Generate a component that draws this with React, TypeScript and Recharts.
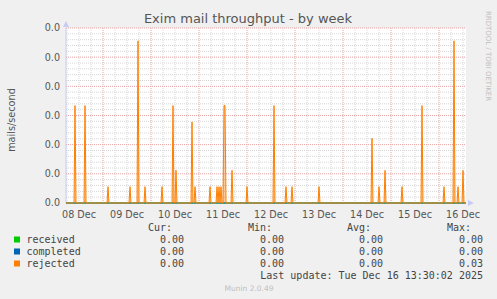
import React from 'react';
import {
  ComposedChart,
  Area,
  Line,
  XAxis,
  YAxis,
  CartesianGrid,
  ReferenceLine,
  ReferenceDot,
} from 'recharts';

// ---- data ----
const seriesNames = ['received', 'completed', 'rejected'];
const seriesColors = ['#00cc00', '#0066b3', '#ff8000'];
const curValues = ['0.00', '0.00', '0.00'];
const minValues = ['0.00', '0.00', '0.00'];
const avgValues = ['0.00', '0.00', '0.00'];
const maxValues = ['0.00', '0.00', '0.03'];

// x axis: half-hour slots from 08 Dec 05:30 to 16 Dec 13:30 (400 slots)
const slotDomain = [0, 400];
const dayLabels = ['08 Dec', '09 Dec', '10 Dec', '11 Dec', '12 Dec', '13 Dec', '14 Dec', '15 Dec', '16 Dec'];
const dayLabelSlots = [13, 61, 109, 157, 205, 253, 301, 349, 397];
const midnightSlots = [37, 85, 133, 181, 229, 277, 325, 373];
const sixHourSlots = [1, 13, 25, 49, 61, 73, 97, 109, 121, 145, 157, 169, 193, 205, 217, 241, 253, 265, 289, 301, 313, 337, 349, 361, 385, 397];

// y axis
const yTicks = [0, 0.005, 0.01, 0.015, 0.02, 0.025, 0.03];
const yMinor = [0.001, 0.002, 0.003, 0.004, 0.006, 0.007, 0.008, 0.009, 0.011, 0.012, 0.013, 0.014, 0.016, 0.017, 0.018, 0.019, 0.021, 0.022, 0.023, 0.024, 0.026, 0.027, 0.028, 0.029];

// rejected spikes (slot, width in slots, mails/second)
const rejectedSlots = [9, 19, 42, 64, 72, 79, 96, 107, 110, 126, 129, 144, 151, 153, 155, 158, 166, 181, 208, 220, 226, 253, 306, 313, 319, 336, 356, 378, 388, 392, 397];
const rejectedWidths = [1, 1, 1, 1, 1, 1, 1, 1, 1, 1, 1, 1, 1, 1, 1, 2, 1, 1, 1, 1, 1, 1, 1, 1, 1, 1, 1, 1, 1, 1, 1];
const rejectedRates = [0.0167, 0.0167, 0.0028, 0.0028, 0.0278, 0.0028, 0.0028, 0.0167, 0.0056, 0.0139, 0.0028, 0.0028, 0.0028, 0.0028, 0.0028, 0.0167, 0.0056, 0.0028, 0.0167, 0.0028, 0.0028, 0.0028, 0.0111, 0.0028, 0.0056, 0.0028, 0.0167, 0.0028, 0.0278, 0.0028, 0.0056];

function buildData() {
  const m = new Map<number, number>();
  m.set(slotDomain[0], 0);
  m.set(slotDomain[1], 0);
  rejectedSlots.forEach((s, i) => {
    const w = rejectedWidths[i];
    if (!m.has(s - 1)) m.set(s - 1, 0);
    if (!m.has(s + w)) m.set(s + w, 0);
  });
  rejectedSlots.forEach((s, i) => {
    for (let k = 0; k < rejectedWidths[i]; k++) m.set(s + k, rejectedRates[i]);
  });
  return Array.from(m.entries())
    .sort((a, b) => a[0] - b[0])
    .map(([slot, v]) => ({ slot, received: 0, completed: 0, rejected: v }));
}
const data = buildData();

const FONT = '"DejaVu Sans", sans-serif';
const MONO = '"DejaVu Sans Mono", monospace';

const UpArrow = (p: any) => (
  <polygon points={`${p.cx - 3},${p.cy - 1} ${p.cx + 3},${p.cy - 1} ${p.cx},${p.cy - 7}`} fill="#c8ccf4" />
);
const RightArrow = (p: any) => (
  <polygon points={`${p.cx + 2},${p.cy - 3} ${p.cx + 2},${p.cy + 3} ${p.cx + 8},${p.cy}`} fill="#c8ccf4" />
);

export default function App() {
  const colX = [184, 284, 383, 483];
  const headers = ['Cur:', 'Min:', 'Avg:', 'Max:'];
  const cols = [curValues, minValues, avgValues, maxValues];
  return (
    <div style={{ position: 'absolute', left: 0, top: 0, width: 497, height: 299, background: '#f0f0f0' }}>
      <ComposedChart
        width={497}
        height={299}
        data={data}
        margin={{ top: 28, right: 31, left: 0, bottom: 76 }}
      >
        <CartesianGrid
          fill="#ffffff"
          stroke="#d6d6d6"
          strokeDasharray="1 1"
          horizontalValues={yMinor}
          verticalValues={sixHourSlots}
        />
        <XAxis
          dataKey="slot"
          type="number"
          domain={slotDomain}
          ticks={dayLabelSlots}
          tickFormatter={(v: number) => dayLabels[dayLabelSlots.indexOf(v)]}
          axisLine={false}
          tickLine={false}
          height={20}
          tickMargin={2}
          tick={{ fontSize: 9.6, fill: '#555', fontFamily: FONT }}
          interval={0}
        />
        <YAxis
          type="number"
          domain={[0, 0.03]}
          ticks={yTicks}
          tickFormatter={(v: number) => v.toFixed(1)}
          axisLine={false}
          tickLine={false}
          width={66}
          tickMargin={0}
          tick={{ fontSize: 9.6, fill: '#555', fontFamily: FONT }}
          interval={0}
        />
        {yTicks.map((t) => (
          <ReferenceLine key={'h' + t} y={t} stroke="#e6a3a3" strokeDasharray="1 1" />
        ))}
        {midnightSlots.map((s) => (
          <ReferenceLine key={'v' + s} x={s} stroke="#e6a3a3" strokeDasharray="1 1" />
        ))}
        <ReferenceLine x={0} stroke="#c8ccf4" />
        <ReferenceDot x={0} y={0.03} r={0} ifOverflow="visible" shape={UpArrow} />
        <ReferenceDot x={400} y={0} r={0} ifOverflow="visible" shape={RightArrow} />
        <Area
          type="linear"
          dataKey="rejected"
          stroke="none"
          fill={seriesColors[2]}
          fillOpacity={0.4}
          dot={false}
          activeDot={false}
          isAnimationActive={false}
        />
        <Line dataKey="received" stroke={seriesColors[0]} dot={false} activeDot={false} isAnimationActive={false} strokeWidth={1} />
        <Line dataKey="completed" stroke={seriesColors[1]} dot={false} activeDot={false} isAnimationActive={false} strokeWidth={1} />
        <Line
          type="linear"
          dataKey="rejected"
          stroke={seriesColors[2]}
          strokeWidth={1}
          dot={false}
          activeDot={false}
          isAnimationActive={false}
        />
      </ComposedChart>
      <svg
        width={497}
        height={299}
        style={{ position: 'absolute', left: 0, top: 0, pointerEvents: 'none' }}
      >
        <text x={248} y={23} textAnchor="middle" fontFamily={FONT} fontSize={13} fill="#555">
          Exim mail throughput - by week
        </text>
        <text
          x={11}
          y={120}
          textAnchor="middle"
          dominantBaseline="central"
          transform="rotate(-90 11 120)"
          fontFamily={FONT}
          fontSize={9.7}
          fill="#555"
        >
          mails/second
        </text>
        <text
          x={488}
          y={56}
          textAnchor="middle"
          dominantBaseline="central"
          transform="rotate(90 488 56)"
          fontFamily={FONT}
          fontSize={7}
          fill="#c0c0c0"
        >
          RRDTOOL / TOBI OETIKER
        </text>
        {headers.map((h, i) => (
          <text key={h} x={colX[i] - 12} y={231} textAnchor="end" fontFamily={MONO} fontSize={10} fill="#444">
            {h}
          </text>
        ))}
        {seriesNames.map((n, r) => (
          <g key={n}>
            <rect x={14} y={236.5 + r * 12} width={6} height={6} fill={seriesColors[r]} />
            <text x={26.5} y={243 + r * 12} fontFamily={MONO} fontSize={10} fill="#444">
              {n}
            </text>
            {cols.map((c, i) => (
              <text key={i} x={colX[i]} y={243 + r * 12} textAnchor="end" fontFamily={MONO} fontSize={10} fill="#444">
                {c[r]}
              </text>
            ))}
          </g>
        ))}
        <text x={483} y={279} textAnchor="end" fontFamily={MONO} fontSize={10} fill="#444">
          Last update: Tue Dec 16 13:30:02 2025
        </text>
        <text x={249} y={291} textAnchor="middle" fontFamily={FONT} fontSize={7.5} fill="#c0c0c0">
          Munin 2.0.49
        </text>
      </svg>
    </div>
  );
}
